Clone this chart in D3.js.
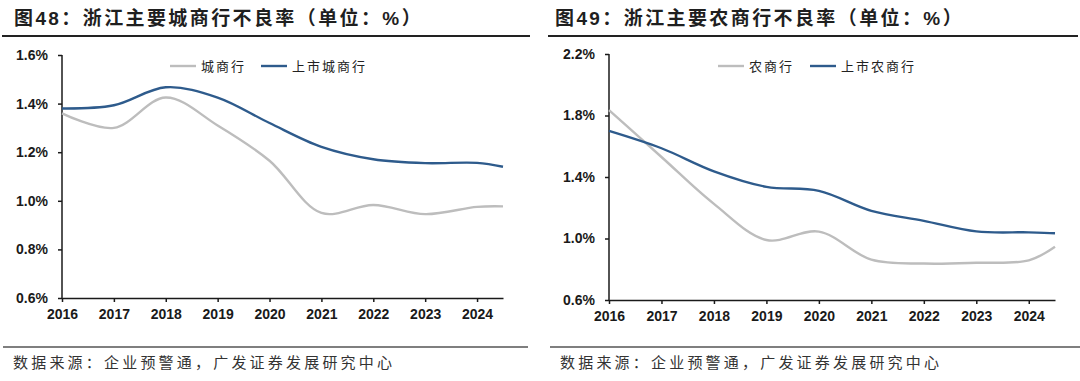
<!DOCTYPE html>
<html>
<head>
<meta charset="utf-8">
<script src="https://cdn.jsdelivr.net/npm/d3@7"></script>
<style>
  body { margin: 0; background: #fff; }
  svg { display: block; }
</style>
</head>
<body>
<svg width="1080" height="381"></svg>
<script>
// 年份（2024.5 = 2024年中）
const years = [2016, 2017, 2018, 2019, 2020, 2021, 2022, 2023, 2024, 2024.5];
const tick_years = [2016, 2017, 2018, 2019, 2020, 2021, 2022, 2023, 2024];

// 图48：城商行
const city_all = [1.36, 1.30, 1.425, 1.31, 1.165, 0.95, 0.983, 0.945, 0.975, 0.977];
const city_listed = [1.38, 1.393, 1.467, 1.425, 1.32, 1.222, 1.171, 1.155, 1.156, 1.14];
const city_ticks = [0.6, 0.8, 1.0, 1.2, 1.4, 1.6];

// 图49：农商行
const rural_all = [1.835, 1.53, 1.225, 0.99, 1.045, 0.862, 0.837, 0.842, 0.858, 0.947];
const rural_listed = [1.70, 1.587, 1.437, 1.336, 1.31, 1.18, 1.115, 1.046, 1.04, 1.034];
const rural_ticks = [0.6, 1.0, 1.4, 1.8, 2.2];

const svg = d3.select("svg");
const gray = "#bdbdbd";
const blue = "#2e5b8c";
const cjk = "'Noto Sans CJK SC', sans-serif";
const num = "'Liberation Sans', 'Noto Sans CJK SC', sans-serif";

const drawPanel = (opt) => {
    const g = svg.append("g");

    // 标题
    g.append("text")
        .attr("x", opt.title_x)
        .attr("y", 25)
        .attr("font-family", num)
        .attr("font-size", 19)
        .attr("font-weight", "bold")
        .attr("letter-spacing", 2.4)
        .attr("fill", "#1f1f1f")
        .text(opt.title);

    g.append("line")
        .attr("x1", opt.rule[0]).attr("x2", opt.rule[1])
        .attr("y1", 36).attr("y2", 36)
        .attr("stroke", "#222").attr("stroke-width", 2);

    const x_scale = d3.scaleLinear().domain([2016, 2024.5]).range(opt.x_range);
    const y_scale = d3.scaleLinear().domain([0.6, d3.max(opt.y_ticks)]).range(opt.y_range);

    const y_axis = g.append("g")
        .attr("transform", `translate(${opt.x_range[0]},0)`)
        .call(d3.axisLeft(y_scale).tickValues(opt.y_ticks)
            .tickFormat((d) => d.toFixed(1) + "%").tickSize(4).tickPadding(10));

    const x_axis = g.append("g")
        .attr("transform", `translate(0,${opt.y_range[0]})`)
        .call(d3.axisBottom(x_scale).tickValues(tick_years)
            .tickFormat(d3.format("d")).tickSize(4).tickSizeOuter(0).tickPadding(7));

    [y_axis, x_axis].forEach((a) => {
        a.select(".domain").attr("stroke", "#1a1a1a").attr("stroke-width", 1.5);
        a.selectAll(".tick line").attr("stroke", "#1a1a1a").attr("stroke-width", 1.5);
        a.selectAll("text")
            .attr("font-family", num)
            .attr("font-size", 14)
            .attr("font-weight", "bold")
            .attr("fill", "#1a1a1a");
    });
    y_axis.select(".domain").attr("d", `M0,${opt.y_range[0]}V${opt.y_range[1]}`);

    const line = d3.line()
        .x((d) => x_scale(d[0]))
        .y((d) => y_scale(d[1]))
        .curve(d3.curveCatmullRom.alpha(0.5));

    opt.series.forEach((s) => {
        g.append("path")
            .datum(years.map((y, i) => [y, s.values[i]]))
            .attr("d", line)
            .attr("fill", "none")
            .attr("stroke", s.color)
            .attr("stroke-width", 2.4);
    });

    // 图例
    opt.series.forEach((s, i) => {
        const lx = opt.legend_x[i];
        g.append("line")
            .attr("x1", lx).attr("x2", lx + 26)
            .attr("y1", 66).attr("y2", 66)
            .attr("stroke", s.color).attr("stroke-width", 2.4);
        g.append("text")
            .attr("x", lx + 31)
            .attr("y", 71)
            .attr("font-family", cjk)
            .attr("font-size", 13)
            .attr("letter-spacing", 2)
            .attr("fill", "#222")
            .text(s.name);
    });

    // 来源
    g.append("line")
        .attr("x1", opt.foot[0]).attr("x2", opt.foot[1])
        .attr("y1", 347).attr("y2", 347)
        .attr("stroke", "#555").attr("stroke-width", 1.5);

    g.append("text")
        .attr("x", opt.foot[0] + 10)
        .attr("y", 368)
        .attr("font-family", cjk)
        .attr("font-size", 15)
        .attr("letter-spacing", 3.2)
        .attr("fill", "#333")
        .text("数据来源：企业预警通，广发证券发展研究中心");
};

drawPanel({
    title: "图48：浙江主要城商行不良率（单位：%）",
    title_x: 14,
    rule: [2, 530],
    foot: [3, 528],
    x_range: [62, 503],
    y_range: [298, 55],
    y_ticks: city_ticks,
    legend_x: [170, 261],
    series: [
        { name: "城商行", values: city_all, color: gray },
        { name: "上市城商行", values: city_listed, color: blue },
    ],
});

drawPanel({
    title: "图49：浙江主要农商行不良率（单位：%）",
    title_x: 555,
    rule: [548, 1078],
    foot: [550, 1080],
    x_range: [609, 1055],
    y_range: [300, 54],
    y_ticks: rural_ticks,
    legend_x: [718, 810],
    series: [
        { name: "农商行", values: rural_all, color: gray },
        { name: "上市农商行", values: rural_listed, color: blue },
    ],
});
</script>
</body>
</html>
